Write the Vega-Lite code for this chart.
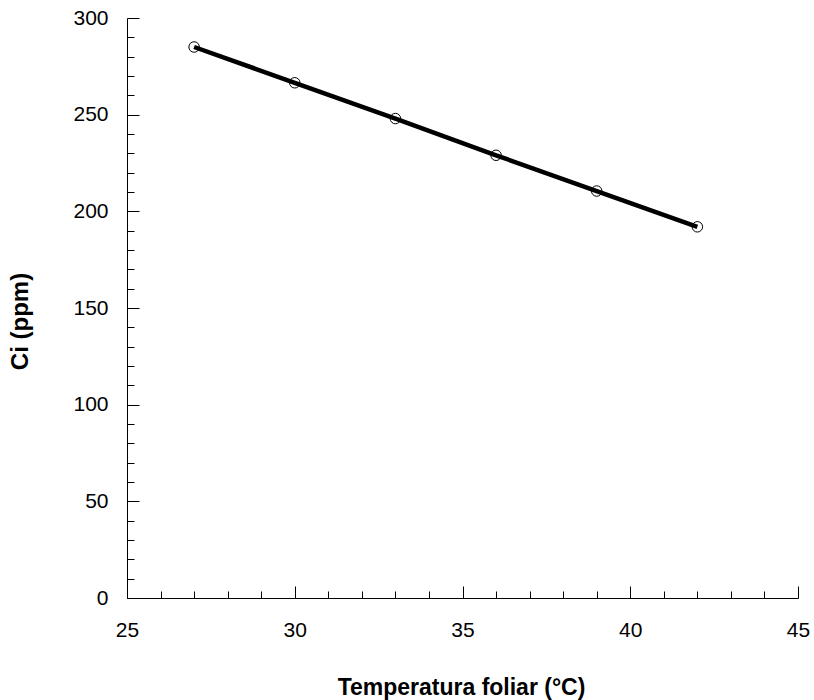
{
  "$schema": "https://vega.github.io/schema/vega-lite/v6.json",
  "autosize": "none",
  "width": 671,
  "height": 580,
  "padding": {"left": 127, "top": 18, "right": 16, "bottom": 102},
  "background": "white",
  "config": {
    "view": {"stroke": null},
    "font": "Liberation Sans",
    "axis": {
      "labelFont": "Liberation Sans",
      "titleFont": "Liberation Sans",
      "labelFontSize": 21,
      "titleFontSize": 23,
      "titleFontWeight": "bold",
      "labelColor": "black",
      "titleColor": "black",
      "domainColor": "black",
      "tickColor": "black",
      "grid": false
    }
  },
  "data": {
    "values": [
      {"temp": 27, "ci": 285},
      {"temp": 30, "ci": 266.5},
      {"temp": 33, "ci": 248},
      {"temp": 36, "ci": 229},
      {"temp": 39, "ci": 210.5},
      {"temp": 42, "ci": 192}
    ]
  },
  "encoding": {
    "x": {
      "field": "temp",
      "type": "quantitative",
      "scale": {"domain": [25, 45], "nice": false, "zero": false},
      "axis": {
        "title": "Temperatura foliar (°C)",
        "values": [25,26,27,28,29,30,31,32,33,34,35,36,37,38,39,40,41,42,43,44,45],
        "labelExpr": "datum.value % 5 === 0 ? datum.label : ''",
        "tickSize": {"condition": {"test": "datum.value % 5 === 0", "value": -12}, "value": -7},
        "labelPadding": 33,
        "titleX": 334,
        "titleY": 78,
        "titleBaseline": "top",
        "labelFlush": false
      }
    },
    "y": {
      "field": "ci",
      "type": "quantitative",
      "scale": {"domain": [0, 300], "nice": false},
      "axis": {
        "title": "Ci (ppm)",
        "values": [0,10,20,30,40,50,60,70,80,90,100,110,120,130,140,150,160,170,180,190,200,210,220,230,240,250,260,270,280,290,300],
        "labelExpr": "datum.value % 50 === 0 ? datum.label : ''",
        "tickSize": {"condition": {"test": "datum.value % 50 === 0", "value": -12}, "value": -7},
        "labelPadding": 31,
        "titleX": -95,
        "titleY": 303,
        "titleFontSize": 24,
        "titleBaseline": "bottom",
        "titleAngle": 270,
        "labelFlush": false
      }
    }
  },
  "layer": [
    {"mark": {"type": "line", "color": "black", "strokeWidth": 4.5}},
    {"mark": {"type": "point", "shape": "circle", "filled": false, "color": "black", "size": 110, "strokeWidth": 1, "opacity": 1}}
  ]
}
